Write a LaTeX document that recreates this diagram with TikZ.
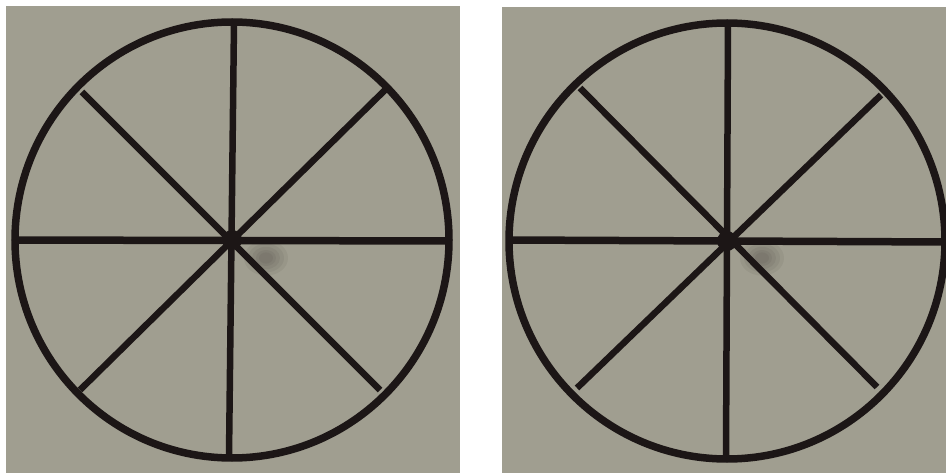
\documentclass[tikz,border=0pt]{standalone}
\begin{document}
\begin{tikzpicture}[x=1pt,y=-1pt,
  panel/.style={fill=paper,draw=none},
  rim/.style={draw=ink,line width=7.5pt},
  spoke/.style={draw=ink,line width=6.5pt,line cap=butt},
  hub/.style={fill=ink},
  smudge/.style={fill=ink,opacity=0.06}]
\definecolor{paper}{RGB}{160,158,144}
\definecolor{ink}{RGB}{28,22,22}
\useasboundingbox (0,0) rectangle (946,473);
\fill[white] (0,0) rectangle (946,473);
% panels
\path[panel] (6,6) rectangle (460,473);
\path[panel] (502,7) rectangle (946,473);
% left wheel
\coordinate (lc) at (232,240);
\foreach \r in {22,18,14,10,7} {\path[smudge] (266,258) ellipse (\r pt and 0.8*\r pt);}
\draw[spoke] (234,22) -- (229,456);
\draw[spoke,line width=7.5pt] (15,240) -- (447,241);
\draw[spoke] (82,92) -- (380,390);
\draw[spoke] (385,90) -- (80,390);
\path[hub] (lc) circle (10);
\draw[rim] (lc) ellipse (217 and 218);
% right wheel
\coordinate (rc) at (727,241);
\foreach \r in {22,18,14,10,7} {\path[smudge] (762,258) ellipse (\r pt and 0.8*\r pt);}
\draw[spoke] (728,24) -- (726,458);
\draw[spoke,line width=7.5pt] (510,240) -- (946,242);
\draw[spoke] (580,88) -- (877,387);
\draw[spoke] (881,95) -- (577,388);
\path[hub] (rc) circle (10);
\draw[rim] (rc) ellipse (218 and 218);
\end{tikzpicture}
\end{document}
